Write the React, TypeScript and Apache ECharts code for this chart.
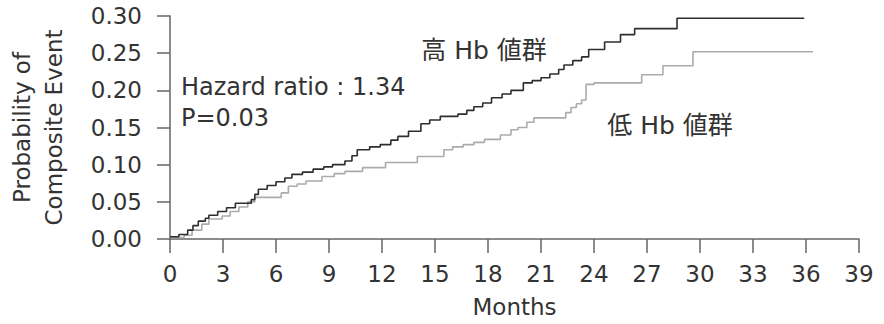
import React, { useEffect, useRef } from "react";
import * as echarts from "echarts";

const highMonths = [0, 0.5, 1.0, 1.3, 1.6, 2.0, 2.2, 2.7, 3.2, 3.7, 4.6, 4.8, 5.0, 5.5, 6.0, 6.5, 6.9, 7.5, 8.1, 8.7, 9.2, 9.9, 10.3, 10.6, 11.3, 11.9, 12.5, 12.9, 13.5, 14.2, 14.7, 15.3, 16.3, 16.8, 17.2, 17.7, 18.2, 18.8, 19.3, 20.0, 20.5, 21.0, 21.5, 22.0, 22.3, 22.8, 23.3, 23.7, 24.6, 25.5, 26.3, 28.7, 35.9];
const highValues = [0.003, 0.006, 0.012, 0.018, 0.024, 0.028, 0.032, 0.037, 0.042, 0.048, 0.053, 0.06, 0.067, 0.072, 0.077, 0.082, 0.087, 0.09, 0.094, 0.097, 0.1, 0.105, 0.112, 0.12, 0.124, 0.127, 0.133, 0.138, 0.145, 0.155, 0.16, 0.165, 0.168, 0.173, 0.178, 0.183, 0.19, 0.195, 0.2, 0.21, 0.213, 0.217, 0.222, 0.228, 0.234, 0.24, 0.245, 0.255, 0.265, 0.275, 0.283, 0.297, 0.297];

const lowMonths = [0, 0.8, 1.25, 1.8, 2.2, 2.95, 3.4, 3.9, 4.4, 4.8, 6.3, 6.7, 7.2, 7.7, 8.6, 9.3, 9.9, 10.9, 12.2, 14.0, 15.5, 16.0, 16.6, 17.2, 17.8, 18.7, 19.3, 19.7, 20.2, 20.6, 22.4, 22.7, 23.0, 23.3, 23.55, 24.0, 26.7, 27.9, 29.6, 36.4];
const lowValues = [0.002, 0.005, 0.012, 0.02, 0.027, 0.031, 0.037, 0.043, 0.05, 0.056, 0.062, 0.071, 0.074, 0.078, 0.084, 0.088, 0.091, 0.096, 0.103, 0.111, 0.12, 0.124, 0.127, 0.13, 0.134, 0.14, 0.147, 0.15, 0.157, 0.163, 0.17, 0.177, 0.182, 0.187, 0.208, 0.21, 0.221, 0.233, 0.252, 0.252];

const highLabel = "高 Hb 値群";
const lowLabel = "低 Hb 値群";
const hazardText = "Hazard ratio : 1.34";
const pText = "P=0.03";
const xAxisName = "Months";
const yAxisName = "Probability of\nComposite Event";

const LATIN = "'DejaVu Sans', 'Noto Sans CJK JP', sans-serif";

export default function App() {
  const ref = useRef<HTMLDivElement>(null);
  useEffect(() => {
    document.body.style.margin = "0";
    document.body.style.overflow = "hidden";
    document.documentElement.style.overflow = "hidden";
    const chart = echarts.init(ref.current!, null, { renderer: "svg", width: 884, height: 324 });
    const axisColor = "#666";
    const textColor = "#333";
    chart.setOption({
      animation: false,
      backgroundColor: "#fff",
      grid: { left: 170, right: 25, top: 16, bottom: 85, containLabel: false, outerBoundsMode: "none" },
      xAxis: {
        type: "value",
        min: 0,
        max: 39,
        interval: 3,
        name: xAxisName,
        nameLocation: "middle",
        nameGap: 56,
        nameTextStyle: { fontFamily: LATIN, fontSize: 23, color: textColor },
        axisLine: { show: true, onZero: false, lineStyle: { color: axisColor, width: 1.5 } },
        axisTick: { show: true, length: 14, lineStyle: { color: axisColor, width: 1.5 } },
        axisLabel: { margin: 23, fontFamily: LATIN, fontSize: 23, color: textColor },
        splitLine: { show: false },
      },
      yAxis: {
        type: "value",
        min: 0,
        max: 0.3,
        interval: 0.05,
        name: yAxisName,
        nameLocation: "middle",
        nameRotate: 90,
        nameGap: 100,
        nameTextStyle: { fontFamily: LATIN, fontSize: 23, color: textColor, lineHeight: 32 },
        axisLine: { show: true, lineStyle: { color: axisColor, width: 1.5 } },
        axisTick: { show: true, length: 13, lineStyle: { color: axisColor, width: 1.5 } },
        axisLabel: {
          margin: 28,
          fontFamily: LATIN,
          fontSize: 23,
          color: textColor,
          formatter: (v: number) => v.toFixed(2),
        },
        splitLine: { show: false },
      },
      series: [
        {
          type: "line",
          step: "end",
          showSymbol: false,
          data: lowMonths.map((m, i) => [m, lowValues[i]]),
          lineStyle: { color: "#ababab", width: 1.6 },
          itemStyle: { color: "#ababab" },
        },
        {
          type: "line",
          step: "end",
          showSymbol: false,
          data: highMonths.map((m, i) => [m, highValues[i]]),
          lineStyle: { color: "#2e2e2e", width: 1.6 },
          itemStyle: { color: "#2e2e2e" },
        },
      ],
      graphic: [
        {
          type: "text",
          x: 484,
          y: 50,
          style: { text: highLabel, font: `25px ${LATIN}`, fill: textColor, textAlign: "center", textVerticalAlign: "middle" },
        },
        {
          type: "text",
          x: 670,
          y: 125,
          style: { text: lowLabel, font: `25px ${LATIN}`, fill: textColor, textAlign: "center", textVerticalAlign: "middle" },
        },
        {
          type: "text",
          x: 181,
          y: 87,
          style: { text: hazardText, font: `24px ${LATIN}`, fill: textColor, textAlign: "left", textVerticalAlign: "middle" },
        },
        {
          type: "text",
          x: 181,
          y: 118,
          style: { text: pText, font: `24px ${LATIN}`, fill: textColor, textAlign: "left", textVerticalAlign: "middle" },
        },
      ],
    });
    return () => chart.dispose();
  }, []);
  return <div ref={ref} style={{ position: "fixed", left: 0, top: 0, width: 884, height: 324 }} />;
}
